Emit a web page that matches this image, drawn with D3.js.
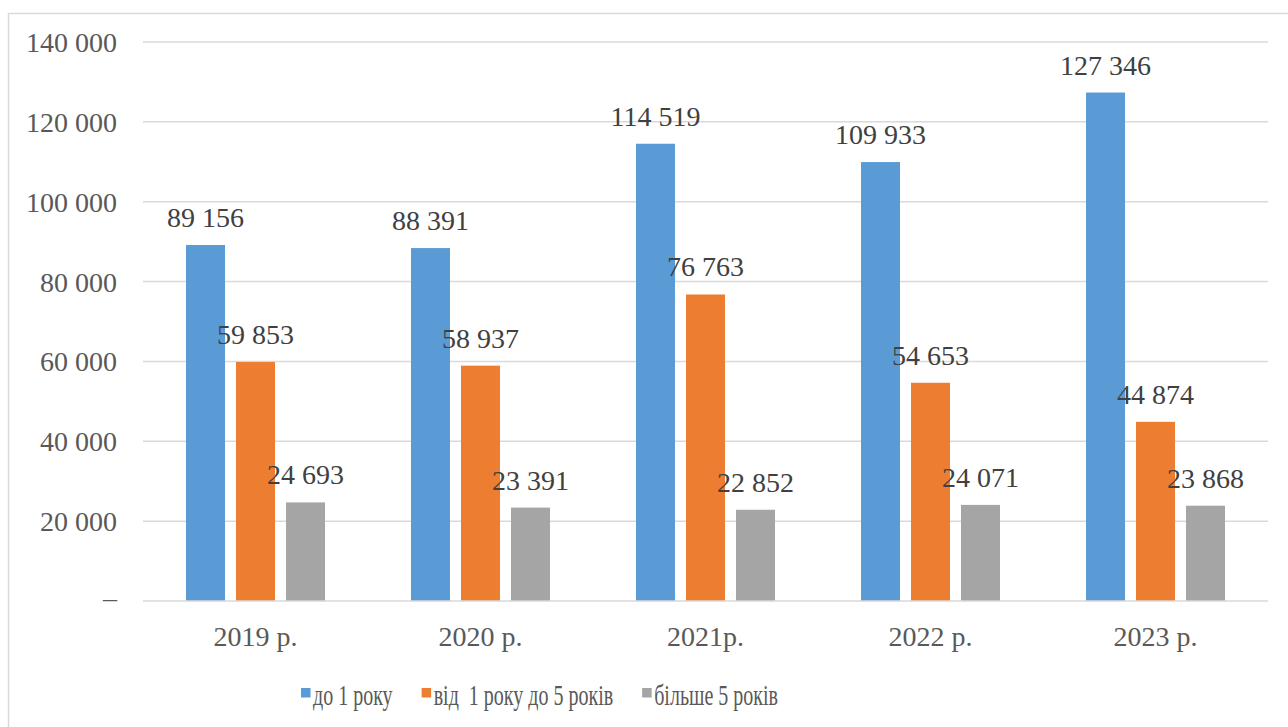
<!DOCTYPE html>
<html>
<head>
<meta charset="utf-8">
<script src="https://cdn.jsdelivr.net/npm/d3@7"></script>
<style>
  html, body { margin: 0; padding: 0; background: #fff; }
  svg { display: block; }
</style>
</head>
<body>
<svg id="chart" width="1288" height="727"></svg>
<script>
// Years and the three age groups
const categories = ["2019 р.", "2020 р.", "2021р.", "2022 р.", "2023 р."];
const seriesNames = ["до 1 року", "від  1 року до 5 років", "більше 5 років"];
const upTo1Year = [89156, 88391, 114519, 109933, 127346];
const from1To5Years = [59853, 58937, 76763, 54653, 44874];
const over5Years = [24693, 23391, 22852, 24071, 23868];
const yTicks = [0, 20000, 40000, 60000, 80000, 100000, 120000, 140000];

const seriesValues = [upTo1Year, from1To5Years, over5Years];
const colors = ["#5B9BD5", "#ED7D31", "#A5A5A5"];

const FONT = "'Liberation Serif', 'Times New Roman', serif";
const W = 1288, H = 727;
const plot = { left: 143, right: 1268, top: 42, bottom: 601 };

const svg = d3.select("#chart");

// Outer chart frame
svg.append("rect")
  .attr("x", 8.5).attr("y", 13.5)
  .attr("width", W + 10).attr("height", H + 10)
  .attr("fill", "#fff").attr("stroke", "#D9D9D9").attr("stroke-width", 1.5);

const x = d3.scaleBand().domain(categories).range([plot.left, plot.right]).paddingInner(0).paddingOuter(0);
const y = d3.scaleLinear().domain([0, 140000]).range([plot.bottom, plot.top]);

// Horizontal gridlines
svg.append("g").selectAll("line")
  .data(yTicks.filter(t => t > 0))
  .join("line")
  .attr("x1", plot.left).attr("x2", plot.right)
  .attr("y1", d => y(d)).attr("y2", d => y(d))
  .attr("stroke", "#D9D9D9").attr("stroke-width", 1.5);

// Thousands separated by a space, zero shown as a dash
const fmt = v => v === 0 ? "–" : String(v).replace(/\B(?=(\d{3})+(?!\d))/g, " ");

// Y axis labels
const yAxis = d3.axisLeft(y).tickValues(yTicks).tickFormat(fmt).tickSize(0).tickPadding(26);
const gy = svg.append("g").attr("transform", `translate(${plot.left},0)`).call(yAxis);
gy.select(".domain").remove();
gy.attr("font-family", null).attr("font-size", null);
gy.selectAll("text")
  .style("font-family", FONT).style("font-size", "28px")
  .attr("fill", "#595959").attr("dy", "0.34em");
gy.selectAll(".tick").filter(d => d === 0).select("text").attr("dy", "0.2em");

// Bars: three per year, 39px wide on a 50px pitch
const barW = 39, pitch = 50;
const groups = svg.append("g").selectAll("g")
  .data(seriesValues)
  .join("g")
  .attr("fill", (d, i) => colors[i]);

groups.each(function(vals, si) {
  d3.select(this).selectAll("rect")
    .data(vals)
    .join("rect")
    .attr("x", (d, i) => x(categories[i]) + x.bandwidth() / 2 + (si - 1) * pitch - barW / 2)
    .attr("y", d => y(d))
    .attr("width", barW)
    .attr("height", d => y(0) - y(d));
});

// Category axis baseline
svg.append("line")
  .attr("x1", plot.left).attr("x2", plot.right)
  .attr("y1", y(0)).attr("y2", y(0))
  .attr("stroke", "#D9D9D9").attr("stroke-width", 1.5);

// Value labels above each bar
const labels = svg.append("g");
seriesValues.forEach((vals, si) => {
  labels.selectAll(null)
    .data(vals)
    .join("text")
    .attr("x", (d, i) => x(categories[i]) + x.bandwidth() / 2 + (si - 1) * pitch)
    .attr("y", d => y(d) - 18)
    .attr("text-anchor", "middle")
    .style("font-family", FONT).style("font-size", "28px")
    .attr("fill", "#404040")
    .text(d => fmt(d));
});

// X axis labels
const xAxis = d3.axisBottom(x).tickSize(0).tickPadding(0);
const gx = svg.append("g").attr("transform", `translate(0,${plot.bottom})`).call(xAxis);
gx.select(".domain").remove();
gx.attr("font-family", null).attr("font-size", null);
gx.selectAll("text")
  .style("font-family", FONT).style("font-size", "28px")
  .attr("fill", "#595959").attr("dy", null).attr("y", 45);

// Legend (narrow text)
const legend = svg.append("g").attr("transform", "translate(301,705)");
const squeeze = 0.69;
let lx = 0;
seriesNames.forEach((name, i) => {
  const item = legend.append("g").attr("transform", `translate(${lx},0)`);
  item.append("rect").attr("x", 0).attr("y", -17).attr("width", 9.5).attr("height", 9.5).attr("fill", colors[i]);
  const t = item.append("text")
    .attr("transform", `translate(12,0) scale(${squeeze},1)`)
    .style("font-family", FONT).style("font-size", "29px")
    .style("white-space", "pre")
    .attr("fill", "#595959")
    .text(name);
  const w = t.node().getComputedTextLength() * squeeze;
  lx += 12 + w + 29;
});
</script>
</body>
</html>
